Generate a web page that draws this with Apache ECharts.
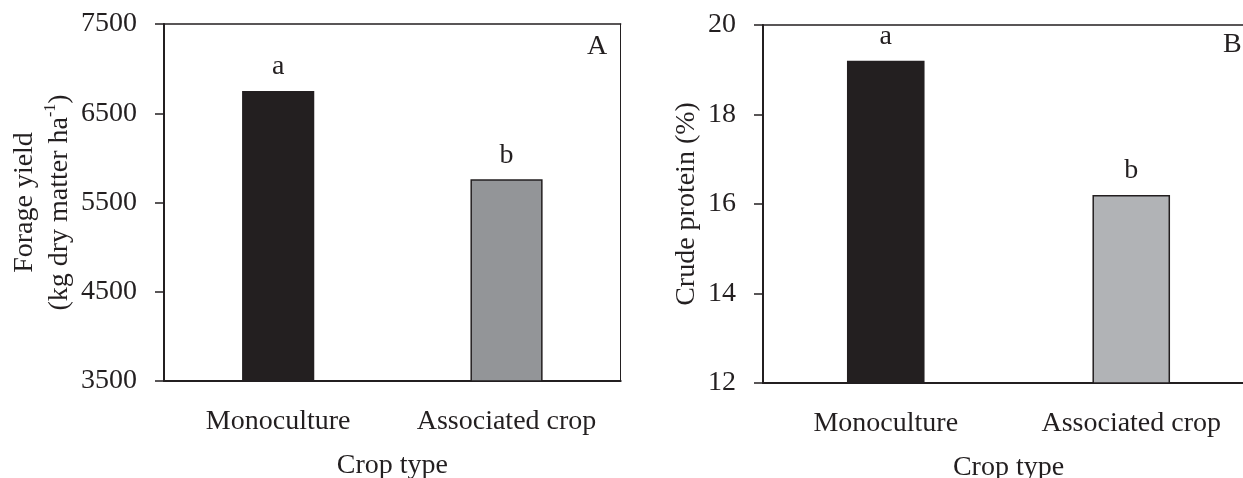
<!DOCTYPE html>
<html>
<head>
<meta charset="utf-8">
<script src="https://cdn.jsdelivr.net/npm/echarts@6/dist/echarts.min.js"></script>
<style>
  html, body { margin: 0; padding: 0; background: #ffffff; overflow: hidden; }
  /* panel B runs past the right edge of the page, so the canvas is a little wider */
  #chart { width: 1262px; height: 478px; }
</style>
</head>
<body>
<div id="chart"></div>
<script>
// Crop types on the horizontal axes
const categories = ['Monoculture', 'Associated crop'];

// Panel A: forage yield (kg dry matter per ha)
const yieldValues = [6750, 5760];
const yieldLetters = ['a', 'b'];
const yieldTicks = [3500, 4500, 5500, 6500, 7500];

// Panel B: crude protein (%)
const proteinValues = [19.2, 16.2];
const proteinLetters = ['a', 'b'];
const proteinTicks = [12, 14, 16, 18, 20];

const FONT = '"Liberation Serif", "DejaVu Serif", serif';
const INK = '#231f20';
const FS = 28;

const chart = echarts.init(document.getElementById('chart'), null, { renderer: 'canvas' });

function barData(values, fills) {
  return values.map((v, i) => ({
    value: v,
    itemStyle: { color: fills[i], borderColor: INK, borderWidth: 1.5 }
  }));
}

function bottomAxis(gridIndex) {
  return {
    type: 'category', gridIndex, data: categories, position: 'bottom',
    axisLine: { onZero: false, lineStyle: { color: INK, width: 2 } },
    axisTick: { show: false },
    axisLabel: { interval: 0, margin: 27, color: INK, fontFamily: FONT, fontSize: FS },
    name: 'Crop type', nameLocation: 'middle', nameGap: 71,
    nameTextStyle: { color: INK, fontFamily: FONT, fontSize: FS }
  };
}

function topLine(gridIndex) {
  return {
    type: 'category', gridIndex, data: categories, position: 'top',
    axisLine: { onZero: false, lineStyle: { color: INK, width: 1.5 } },
    axisTick: { show: false }, axisLabel: { show: false }
  };
}

function valueAxis(gridIndex, min, max, ticks, name, nameGap, rich) {
  return {
    type: 'value', gridIndex, min, max, position: 'left',
    splitLine: { show: false },
    axisLine: { show: true, onZero: false, lineStyle: { color: INK, width: 2 } },
    axisTick: { show: true, inside: false, length: 9, customValues: ticks, lineStyle: { color: INK, width: 1.5 } },
    axisLabel: {
      margin: 27, color: INK, fontFamily: FONT, fontSize: FS, customValues: ticks,
      formatter: v => String(v)
    },
    name, nameLocation: 'middle', nameGap, nameRotate: 90,
    nameTextStyle: Object.assign({ color: INK, fontFamily: FONT, fontSize: FS, lineHeight: 35 }, rich ? { rich } : {})
  };
}

const supRich = {
  t: { color: INK, fontFamily: FONT, fontSize: FS, lineHeight: 35 },
  s: { color: INK, fontFamily: FONT, fontSize: 16, lineHeight: 35, verticalAlign: 'top', padding: [1, 0, 0, 0] }
};

function letterLabel(letters) {
  return {
    show: true, position: 'top', distance: 10,
    color: INK, fontFamily: FONT, fontSize: FS,
    formatter: p => letters[p.dataIndex]
  };
}

const option = {
  backgroundColor: '#ffffff',
  animation: false,
  grid: [
    { left: 164, top: 24, width: 456.7, height: 357, containLabel: false, outerBoundsMode: 'none' },
    { left: 763, top: 25, width: 491, height: 358, containLabel: false, outerBoundsMode: 'none' }
  ],
  xAxis: [bottomAxis(0), topLine(0), bottomAxis(1), topLine(1)],
  yAxis: [
    valueAxis(0, 3500, 7500, yieldTicks,
      '{t|Forage yield}\n{t|(kg dry matter ha}{s|-1}{t|)}', 79, supRich),
    {
      type: 'value', gridIndex: 0, min: 3500, max: 7500, position: 'right',
      splitLine: { show: false },
      axisLine: { show: true, onZero: false, lineStyle: { color: INK, width: 1 } },
      axisTick: { show: false }, axisLabel: { show: false }
    },
    valueAxis(1, 12, 20, proteinTicks, 'Crude protein (%)', 59, null)
  ],
  series: [
    {
      type: 'bar', xAxisIndex: 0, yAxisIndex: 0, barWidth: '31.6%',
      data: barData(yieldValues, [INK, '#939598']),
      label: letterLabel(yieldLetters)
    },
    {
      type: 'bar', xAxisIndex: 2, yAxisIndex: 2, barWidth: '31.6%',
      data: barData(proteinValues, [INK, '#b1b3b6']),
      label: letterLabel(proteinLetters)
    }
  ],
  graphic: [
    { type: 'text', left: 587, top: 33, style: { text: 'A', fill: INK, font: FS + 'px ' + FONT } },
    { type: 'text', left: 1223, top: 31, style: { text: 'B', fill: INK, font: FS + 'px ' + FONT } }
  ]
};

chart.setOption(option);
</script>
</body>
</html>
